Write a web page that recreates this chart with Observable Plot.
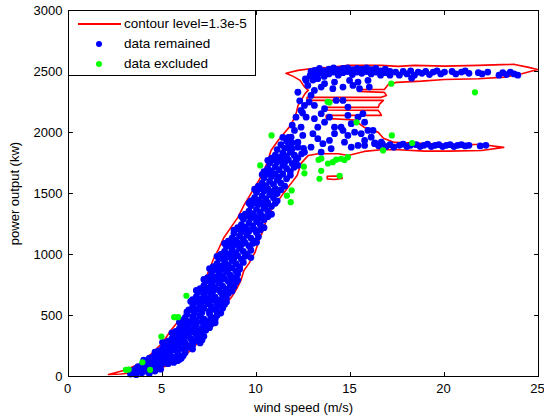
<!DOCTYPE html>
<html>
<head>
<meta charset="utf-8">
<script src="https://cdn.jsdelivr.net/npm/d3@7"></script>
<script src="https://cdn.jsdelivr.net/npm/@observablehq/plot@0.6"></script>
<style>
  html, body { margin: 0; padding: 0; background: #fff; }
  #chart { position: relative; width: 544px; height: 420px; font-family: "Liberation Sans", Arial, sans-serif; }
  #legend { position: absolute; left: 68px; top: 10px; width: 188px; height: 66px; border: 1px solid #000; background: #fff; box-sizing: border-box; font-size: 13.5px; }
  .row { position: absolute; left: 0; height: 16px; width: 100%; }
  .row span.lab { position: absolute; left: 55px; top: 0; line-height: 16px; white-space: nowrap; }
  .sw-line { position: absolute; left: 9px; top: 7px; width: 43px; height: 0; border-top: 2px solid red; }
  .sw-dot { position: absolute; left: 27px; top: 5px; width: 6px; height: 6px; border-radius: 50%; }
</style>
</head>
<body>
<div id="chart"></div>
<script>
const xTicks = [0, 5, 10, 15, 20, 25];
const yTicks = [0, 500, 1000, 1500, 2000, 2500, 3000];
const legendLabels = ["contour level=1.3e-5", "data remained", "data excluded"];
const seriesColors = ["red", "#0000ff", "#00ff00"];

// contour line (wind speed, power)
const contourMain = [
[2.13,16],[2.93,49],[3.84,107],[4.48,197],[5.01,279],[5.44,377],[5.87,459],[6.35,525],[6.67,599],[6.93,681],[7.15,746],[7.41,845],[7.68,951],[7.95,1033],[8.27,1140],[8.64,1222],[9.01,1304],[9.33,1402],[9.71,1501],[10.13,1607],[10.4,1689],[10.61,1771],[10.77,1853],[11.15,1935],[11.47,1993],[11.73,2042],[11.95,2099],[12.11,2157],[12.21,2222],[12.37,2263],[12.59,2321],[12.75,2345],[12.53,2378],[12.32,2427],[11.95,2460],[11.57,2485],[12.21,2509],[13.07,2526],[13.97,2534],[14.88,2550],[15.73,2550],[16.64,2550],[17.55,2542],[18.4,2550],[20.0,2544],[21.81,2550],[23.04,2556],[23.73,2558],[24.48,2534],[24.95,2517],[24.11,2482],[23.2,2454],[21.81,2441],[20.0,2435],[18.77,2421],[17.44,2411],[17.01,2394],[16.8,2353],[15.41,2353],[15.41,2337],[16.8,2329],[16.91,2304],[16.64,2288],[12.69,2288],[12.69,2263],[16.75,2263],[16.53,2230],[16.48,2206],[13.6,2206],[13.6,2185],[16.48,2181],[16.59,2157],[16.64,2140],[13.71,2140],[13.71,2116],[15.2,2103],[15.73,2042],[16.48,2001],[16.75,1952],[17.33,1919],[18.4,1913],[20.21,1902],[21.97,1902],[23.15,1878],[21.97,1853],[20.21,1847],[18.93,1847],[17.55,1859],[16.64,1859],[15.73,1845],[14.88,1812],[14.35,1826],[13.81,1826],[13.28,1826],[12.75,1812],[12.37,1747],[12.16,1648],[11.84,1583],[11.47,1509],[11.09,1427],[10.77,1361],[10.51,1279],[10.35,1197],[10.13,1115],[9.92,1017],[9.6,927],[9.33,869],[9.17,787],[8.96,722],[8.69,656],[8.32,582],[7.95,500],[7.52,418],[7.15,336],[6.67,238],[6.13,164],[5.44,98],[4.64,57],[3.57,33],[2.77,20],[2.13,16]
];
const contourIsland = [
[13.76,1640],[14.13,1644],[14.51,1640],[14.56,1624],[14.13,1615],[13.76,1620],[13.76,1640]
];

// data remained: rising part of the curve
const remainedRamp = [
[3.3,20],[3.5,30],[3.6,15],[3.7,40],[3.9,30],[4.0,50],[4.2,40],[4.4,55],[3.5,55],[3.8,60],[4.1,70],[4.5,75],[4.7,65],[3.4,40],[4.3,25],[4.6,45],[4.9,60],
[3.7,80],[3.9,90],[4.1,85],[4.3,95],[4.5,90],[4.7,100],[4.9,95],[5.1,110],[5.3,105],[4.2,115],[4.6,120],[5.0,125],[5.4,120],[5.6,115],[5.8,130],
[4.3,150],[4.5,160],[4.7,145],[4.9,170],[5.1,155],[5.3,175],[5.5,160],[5.7,150],[5.9,140],[6.0,150],[4.6,180],[5.0,185],[5.4,190],[5.8,175],[6.1,170],
[4.8,210],[5.0,230],[5.2,215],[5.4,240],[5.6,220],[5.8,250],[6.0,230],[6.2,215],[6.4,240],[6.6,225],[5.1,260],[5.5,265],[5.9,270],[6.3,255],[6.6,260],
[5.3,290],[5.5,310],[5.7,295],[5.9,320],[6.1,300],[6.3,330],[6.5,310],[6.7,290],[6.9,315],[7.1,300],[5.6,340],[6.0,345],[6.4,350],[6.8,340],[7.2,330],
[5.7,370],[5.9,395],[6.1,380],[6.3,410],[6.5,385],[6.7,400],[6.9,375],[7.1,395],[7.3,380],[7.5,400],[6.0,420],[6.4,430],[6.8,425],[7.2,420],[7.6,430],
[6.0,460],[6.2,480],[6.4,450],[6.6,490],[6.8,465],[7.0,500],[7.2,470],[7.4,455],[7.6,485],[7.8,470],[6.3,510],[6.7,520],[7.1,525],[7.5,515],[7.9,500],
[6.4,545],[6.6,570],[6.8,550],[7.0,585],[7.2,560],[7.4,595],[7.6,570],[7.8,550],[8.0,580],[8.2,560],[6.7,605],[7.1,610],[7.5,615],[7.9,600],[8.3,590],
[6.6,630],[6.8,655],[7.0,635],[7.2,665],[7.4,640],[7.6,675],[7.8,650],[8.0,625],[8.2,660],[8.4,640],[6.9,690],[7.3,695],[7.7,700],[8.1,690],[8.5,680],
[7.0,720],[7.2,745],[7.4,725],[7.6,755],[7.8,730],[8.0,765],[8.2,740],[8.4,715],[8.6,750],[8.8,735],[7.3,780],[7.7,785],[8.1,790],[8.5,780],[8.9,770],
[7.4,810],[7.6,835],[7.8,815],[8.0,845],[8.2,820],[8.4,855],[8.6,830],[8.8,810],[9.0,840],[7.7,870],[8.1,875],[8.5,880],[8.9,865],
[7.7,900],[7.9,925],[8.1,905],[8.3,940],[8.5,915],[8.7,950],[8.9,925],[9.1,900],[9.3,935],[8.0,965],[8.4,975],[8.8,970],[9.2,960],
[8.1,1000],[8.3,1025],[8.5,1005],[8.7,1040],[8.9,1015],[9.1,1050],[9.3,1025],[9.5,1000],[9.7,1035],[8.4,1065],[8.8,1075],[9.2,1080],[9.6,1070],
[8.5,1110],[8.7,1135],[8.9,1115],[9.1,1150],[9.3,1125],[9.5,1160],[9.7,1135],[9.9,1110],[10.1,1145],[8.8,1175],[9.2,1185],[9.6,1190],[10.0,1180],
[9.0,1220],[9.2,1245],[9.4,1225],[9.6,1260],[9.8,1235],[10.0,1270],[10.2,1245],[10.4,1220],[9.3,1290],[9.7,1300],[10.1,1295],[10.4,1285],
[9.4,1330],[9.6,1355],[9.8,1335],[10.0,1370],[10.2,1345],[10.4,1380],[10.6,1355],[10.8,1330],[9.7,1400],[10.1,1410],[10.5,1405],[10.8,1395],
[9.7,1440],[9.9,1465],[10.1,1445],[10.3,1480],[10.5,1455],[10.7,1490],[10.9,1465],[11.1,1440],[10.0,1510],[10.4,1520],[10.8,1515],[11.1,1500],
[10.1,1560],[10.3,1585],[10.5,1565],[10.7,1600],[10.9,1575],[11.1,1610],[11.3,1585],[11.5,1560],[10.4,1630],[10.8,1640],[11.2,1635],[11.6,1620],
[10.4,1680],[10.6,1705],[10.8,1685],[11.0,1720],[11.2,1695],[11.4,1730],[11.6,1705],[11.8,1680],[12.0,1715],[10.7,1750],[11.1,1760],[11.5,1755],[11.9,1745],[12.2,1730],
[10.8,1790],[11.0,1815],[11.2,1795],[11.4,1830],[11.6,1805],[11.8,1840],[12.0,1815],[12.2,1790],[12.4,1825],[11.1,1860],[11.5,1870],[11.9,1865]
];

// data remained: more points filling the dense rising band
const remainedRampFill = [
[3.6,65],[4.0,62],[4.4,68],[4.8,80],
[4.0,135],[4.4,130],[4.8,140],[5.2,135],[5.6,140],
[4.6,200],[5.0,200],[5.4,205],[5.8,200],[6.2,195],
[5.0,280],[5.4,278],[5.8,285],[6.2,275],[6.6,280],[7.0,275],
[5.5,358],[5.9,360],[6.3,365],[6.7,360],[7.1,360],
[5.9,445],[6.3,445],[6.7,445],[7.1,448],[7.5,445],[7.8,440],
[6.3,530],[6.7,535],[7.1,540],[7.5,535],[7.9,530],[8.1,520],
[6.5,615],[6.9,620],[7.3,625],[7.7,625],[8.1,615],[8.4,610],
[6.8,705],[7.2,710],[7.6,715],[8.0,710],[8.4,705],[8.7,700],
[7.2,795],[7.5,800],[7.9,800],[8.3,800],[8.7,795],[9.0,790],
[7.5,885],[7.9,890],[8.3,890],[8.7,890],[9.1,880],
[7.9,985],[8.2,985],[8.6,990],[9.0,990],[9.4,985],[9.7,975],
[8.3,1090],[8.6,1090],[9.0,1095],[9.4,1095],[9.8,1090],[10.0,1100],
[8.8,1200],[9.1,1205],[9.5,1205],[9.9,1205],[10.2,1200],
[9.2,1312],[9.5,1315],[9.9,1315],[10.3,1315],[10.6,1310],
[9.6,1420],[9.9,1425],[10.3,1425],[10.6,1425],[11.0,1420],
[9.9,1535],[10.2,1540],[10.6,1540],[11.0,1540],[11.3,1530],
[10.3,1655],[10.6,1660],[11.0,1660],[11.4,1660],[11.8,1650],
[10.6,1772],[10.9,1775],[11.3,1778],[11.7,1775],[12.1,1770],
[11.3,1900],[11.6,1930],[11.4,1960],[11.9,1915],[12.2,1880],[12.5,1870]
];

// data remained: transition region between the two plateaus
const remainedMid = [
[12.64,2427],[12.73,2386],[13.26,2441],[13.44,2372],[13.08,2345],[13.62,2400],[14.15,2413],[14.06,2359],[14.6,2372],[14.95,2427],[15.13,2386],[15.4,2413],[15.48,2359],[15.93,2427],[16.0,2372],
[12.9,2304],[12.55,2222],[12.37,2181],[12.1,2126],[12.64,2126],[13.08,2113],[13.44,2154],[13.08,2222],[13.62,2195],[13.88,2126],[14.24,2263],[14.6,2263],[14.86,2208],[15.66,2154],[15.4,2126],
[15.04,2072],[14.5,2044],[14.15,2044],[13.62,2085],[13.26,2044],[12.37,2044],[12.02,2017],[11.84,1962],[12.46,1976],[13.0,1990],[13.26,1949],[13.53,1908],[13.88,1935],[14.15,1990],[14.6,2017],
[14.86,1976],[15.22,2003],[15.57,1990],[15.75,1935],[16.1,1962],[16.28,1908],[16.64,1921],[15.4,1894],[15.04,1880],[14.68,1921],[13.97,1867],[13.44,1839],[12.9,1880],[12.55,1839],[12.02,1812],
[11.66,1880],[11.48,1812],[12.2,1921],[15.75,1894],[15.93,2017],[15.75,2085],[16.2,2017],[14.86,2140],[12.3,2260],[12.45,2160],[11.7,1960],[11.9,2060],[12.2,2330],[12.8,2250]
];

// data remained: rated-power plateau (~2500 kW)
const remainedTop = [
[12.6,2440],[12.85,2465],[12.9,2500],[13.0,2430],
[13.1,2470],[13.1,2510],[13.35,2490],[13.35,2525],[13.6,2460],[13.6,2505],[13.85,2480],[13.85,2520],[14.1,2495],[14.1,2530],[14.35,2470],[14.35,2515],[14.6,2490],[14.6,2525],[14.85,2500],[14.85,2530],
[15.1,2475],[15.1,2515],[15.35,2495],[15.35,2525],[15.6,2485],[15.6,2520],[15.85,2500],[15.85,2530],[16.1,2480],[16.1,2515],[16.35,2495],[16.35,2525],[16.6,2505],[16.6,2470],[16.85,2490],[16.85,2520],[17.1,2500],[17.1,2470],
[17.4,2495],[17.6,2470],[17.8,2500],[18.0,2480],[18.2,2505],[18.4,2470],[18.6,2495],[18.8,2485],[19.0,2500],[19.2,2475],[19.4,2495],[19.6,2505],[19.8,2480],[20.0,2495],[20.4,2500],[20.6,2480],[20.9,2495],[21.1,2505],[21.3,2485],
[21.8,2490],[22.0,2480],[22.3,2495],[22.9,2470],[23.1,2490],[23.3,2475],[23.5,2495],[23.7,2480],[23.9,2470],[18.25,2445]
];

// data remained: lower plateau (~1890 kW)
const remainedLow = [
[16.3,1915],[16.5,1890],[16.7,1905],[16.9,1885],[17.1,1900],[17.3,1880],[17.6,1895],[17.8,1905],[18.0,1885],[18.2,1895],[18.5,1900],[18.7,1885],[18.9,1895],[19.1,1905],[19.3,1885],[19.5,1895],[19.7,1900],[19.9,1885],[20.1,1895],[20.3,1900],[20.5,1885],[20.7,1895],[20.9,1900],[21.1,1890],[21.3,1895],[21.9,1890],[22.2,1895]
];

// data excluded
const excluded = [
[3.05,55],[3.2,57],[3.93,117],[4.34,55],[4.94,328],[5.62,486],[5.83,486],[6.27,662],[10.2,1730],[10.8,1976],[11.62,1482],[11.87,1525],[11.82,1429],[12.52,1720],[12.55,1665],[13.3,1776],[13.45,1786],[13.44,1686],[13.35,1621],[13.8,1746],[14.06,1757],[14.24,1777],[14.5,1785],[14.68,1775],[14.86,1798],[14.42,1645],[13.78,2252],[13.88,2245],[17.17,2400],[21.62,2329],[15.32,2083],[17.2,1976],[18.28,1914],[16.73,1853]
];

const remained = [...remainedRamp, ...remainedRampFill, ...remainedMid, ...remainedTop, ...remainedLow];

const fmt = d3.format("d");
// inward tick shape (MATLAB style)
const tickShape = {draw(context, l) { context.moveTo(0, 0); context.lineTo(0, -l); }};
const tickOpts = {length: 4, anchor: "start", shape: tickShape, stroke: "#000", strokeWidth: 1};

const chart = Plot.plot({
  width: 544,
  height: 420,
  marginLeft: 68,
  marginRight: 6,
  marginTop: 10,
  marginBottom: 44,
  x: {domain: [0, 25]},
  y: {domain: [0, 3000]},
  style: {fontFamily: "'Liberation Sans', Arial, sans-serif", fontSize: "13px", color: "#000", background: "#fff"},
  marks: [
    Plot.line(contourMain, {x: d => d[0], y: d => d[1], stroke: seriesColors[0], strokeWidth: 1.6}),
    Plot.line(contourIsland, {x: d => d[0], y: d => d[1], stroke: seriesColors[0], strokeWidth: 1.6}),
    Plot.dot(remained, {x: d => d[0], y: d => d[1], r: 3.4, fill: seriesColors[1], stroke: null}),
    Plot.dot(excluded, {x: d => d[0], y: d => d[1], r: 3.1, fill: seriesColors[2], stroke: null}),
    Plot.axisX({anchor: "bottom", ticks: xTicks, tickSize: 0, tickPadding: 7, dx: -1, tickFormat: fmt, label: "wind speed (m/s)", labelAnchor: "center", labelArrow: false, labelOffset: 35}),
    Plot.axisY({anchor: "left", ticks: yTicks, tickSize: 0, tickPadding: 6, tickFormat: fmt, label: "power output (kw)", labelAnchor: "center", labelArrow: false, labelOffset: 59}),
    Plot.vector(xTicks, {x: d => d, frameAnchor: "bottom", rotate: 0, ...tickOpts}),
    Plot.vector(xTicks, {x: d => d, frameAnchor: "top", rotate: 180, ...tickOpts}),
    Plot.vector(yTicks, {y: d => d, frameAnchor: "left", rotate: 90, ...tickOpts}),
    Plot.vector(yTicks, {y: d => d, frameAnchor: "right", rotate: -90, ...tickOpts}),
    Plot.frame({stroke: "#000", strokeWidth: 1})
  ]
});
const root = document.getElementById("chart");
root.appendChild(chart);

const legend = document.createElement("div");
legend.id = "legend";
legendLabels.forEach((lab, i) => {
  const row = document.createElement("div");
  row.className = "row";
  row.style.top = (5 + i * 20) + "px";
  const sw = document.createElement("div");
  if (i === 0) { sw.className = "sw-line"; }
  else { sw.className = "sw-dot"; sw.style.background = seriesColors[i]; }
  row.appendChild(sw);
  const t = document.createElement("span");
  t.className = "lab";
  t.textContent = lab;
  row.appendChild(t);
  legend.appendChild(row);
});
root.appendChild(legend);
</script>
</body>
</html>
